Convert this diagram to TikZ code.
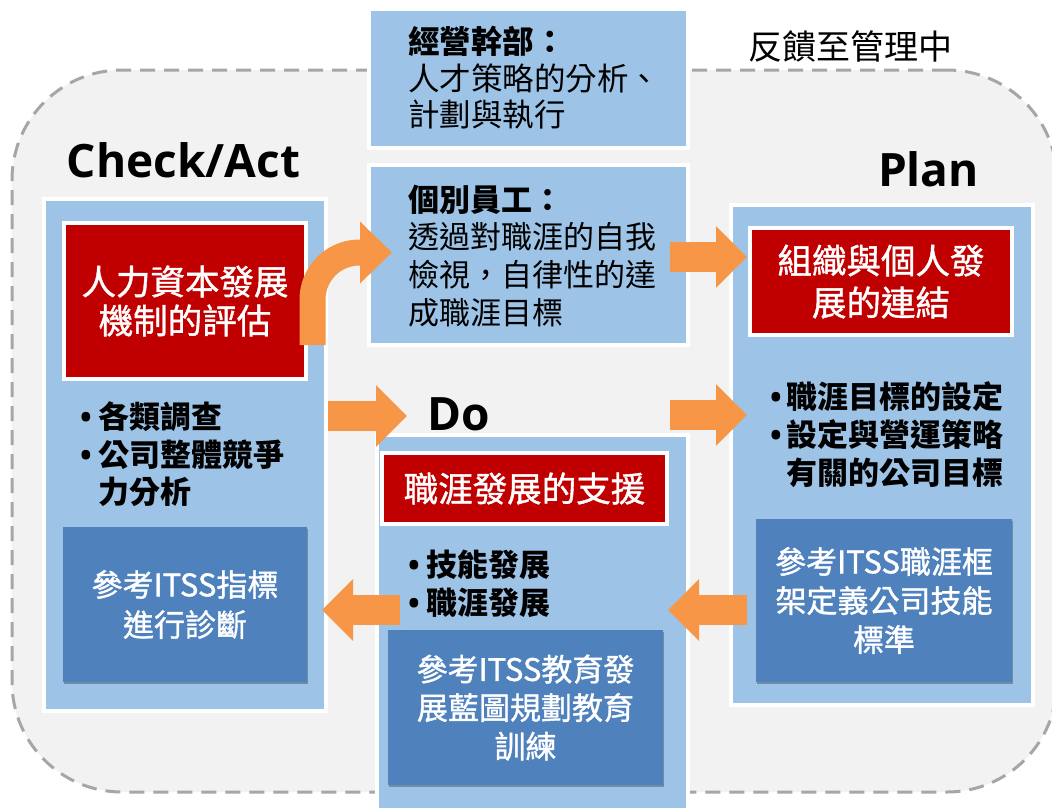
\documentclass[tikz,border=0pt]{standalone}
\usepackage{fontspec}
\setmainfont{Noto Sans CJK TC}
\newfontfamily\latf{Open Sans}
\newfontfamily\cjkm{Noto Sans CJK TC}[FakeBold=1.2]
\usetikzlibrary{shadows,arrows.meta}
\definecolor{cpanel}{HTML}{9DC3E6}
\definecolor{cdark}{HTML}{4F81BD}
\definecolor{cred}{HTML}{C00000}
\definecolor{corange}{HTML}{F79646}
\definecolor{cbg}{HTML}{F2F2F2}
\definecolor{cgray}{HTML}{A6A6A6}
\newcommand\fsz[2]{\fontsize{#1}{#2}\selectfont}
\newcommand\bul[1]{\makebox[#1][l]{{\latf •}}}
\begin{document}
\begin{tikzpicture}[x=1pt,y=-1pt,
  shd/.style={drop shadow={shadow xshift=1.2pt,shadow yshift=-1.8pt,opacity=0.28,fill=black}},
  frame/.style={draw=cgray,line width=3pt,dash pattern=on 15pt off 9pt,fill=cbg,rounded corners=110pt,inner sep=0pt,outer sep=0pt},
  panel/.style={shd,draw=white,line width=4pt,fill=cpanel,inner sep=0pt,outer sep=0pt},
  redbox/.style={panel,fill=cred,text=white,align=center},
  darkbox/.style={shd,fill=cdark,inner sep=0pt,outer sep=0pt,text=white,align=center},
  txt/.style={anchor=north west,inner sep=0pt,align=left,text=black},
  lbl/.style={anchor=base,inner sep=0pt,font=\latf\bfseries\fsz{46}{50}},
  blockarrow/.style={draw=corange,line width=30pt,-{Triangle[length=31pt,width=60pt]}},
  curvearrow/.style={draw=corange,line width=26pt,-{Triangle[length=32pt,width=60pt]}}]
\clip (0,0) rectangle (1052,807);
\fill[white] (0,0) rectangle (1052,807);
% background frame
\node[frame,minimum width=1045pt,minimum height=722pt] (frame) at (534.5,431) {};
\node[inner sep=0pt,font=\fsz{34}{40}] (fb) at (850,46) {反饋至管理中};
% phase labels
\node[lbl] (lca) at (183.5,177) {Check/Act};
\node[lbl] (lplan) at (928.5,186) {Plan};
\node[lbl] (ldo) at (459,430) {Do};
% panels
\node[panel,minimum width=319pt,minimum height=139pt] (mgmt) at (528.5,78.5) {};
\node[panel,minimum width=319pt,minimum height=180pt] (emp) at (528.5,255) {};
\node[panel,minimum width=282pt,minimum height=512pt] (ca) at (185,455) {};
\node[panel,minimum width=311pt,minimum height=385pt] (do) at (532.5,627.5) {};
\node[panel,minimum width=302pt,minimum height=500pt] (plan) at (882,455) {};
% red boxes
\node[redbox,minimum width=242pt,minimum height=156pt,font=\cjkm\fsz{34.5}{39}] (r1) at (185,301) {人力資本發展\\機制的評估};
\node[redbox,minimum width=285pt,minimum height=71pt,font=\cjkm\fsz{34.5}{40}] (r2) at (524.5,488.5) {職涯發展的支援};
\node[redbox,minimum width=262pt,minimum height=107pt,font=\cjkm\fsz{34.5}{42}] (r3) at (881,281.5) {組織與個人發\\展的連結};
% dark boxes
\node[darkbox,minimum width=244pt,minimum height=155pt,font=\cjkm\fsz{31}{40}] (d1) at (185,604.5) {參考ITSS指標\\進行診斷};
\node[darkbox,minimum width=275pt,minimum height=155pt,font=\cjkm\fsz{31}{38.5}] (d2) at (525.5,707.5) {參考ITSS教育發\\展藍圖規劃教育\\訓練};
\node[darkbox,minimum width=256pt,minimum height=163pt,font=\cjkm\fsz{31}{39}] (d3) at (884,600.5) {參考ITSS職涯框\\架定義公司技能\\標準};
% panel texts
\node[txt,font=\fsz{31.5}{36.5}] (mgmtt) at (408,26.25) {{\bfseries 經營幹部：}\\人才策略的分析、\\計劃與執行};
\node[txt,font=\fsz{31}{37.7}] (empt) at (408,184.5) {{\bfseries 個別員工：}\\透過對職涯的自我\\檢視，自律性的達\\成職涯目標};
\node[txt,font=\bfseries\fsz{31}{37.5}] (cab) at (80,401.5) {\bul{18pt}各類調查\\\bul{18pt}公司整體競爭\\\hspace*{18pt}力分析};
\node[txt,font=\bfseries\fsz{31}{38}] (dob) at (408,549.5) {\bul{18pt}技能發展\\\bul{18pt}職涯發展};
\node[txt,font=\bfseries\fsz{31}{38}] (planb) at (770,381.5) {\bul{16pt}職涯目標的設定\\\bul{16pt}設定與營運策略\\\hspace*{16pt}有關的公司目標};
% arrows
\draw[curvearrow,rounded corners=47pt] ([xshift=6.5pt,yshift=34pt]r1.south east) |- ([xshift=23pt,yshift=2.5pt]emp.west);
\draw[blockarrow] ([xshift=-18pt,yshift=-2pt]emp.east) -- ++(77,0);
\draw[blockarrow] ([xshift=2pt,yshift=39pt]ca.east) -- ++(79,0);
\draw[blockarrow] ([xshift=-18pt,yshift=20pt]do.north east) -- ++(77,0);
\draw[blockarrow] ([xshift=16pt,yshift=-155pt]plan.west) -- ++(-79,0);
\draw[blockarrow] ([xshift=23pt,yshift=17.5pt]do.west) -- ++(-78,0);
\end{tikzpicture}
\end{document}
